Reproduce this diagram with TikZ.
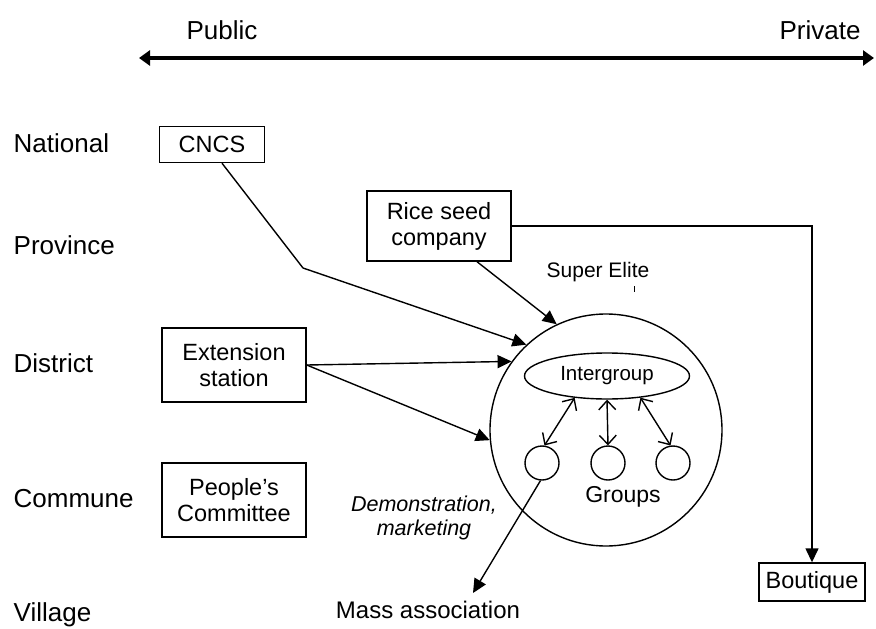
\documentclass[tikz,border=0pt]{standalone}
\usepackage{fontspec}
\setmainfont{Liberation Sans}
\usetikzlibrary{arrows.meta,shapes.geometric}
\begin{document}
\begin{tikzpicture}[x=1pt,y=-1pt,line width=1.4pt,
  lbl/.style={font=\fontsize{26}{30}\selectfont,anchor=west,inner sep=0pt},
  boxnode/.style={draw,font=\fontsize{23.5}{26}\selectfont,align=center,inner sep=0pt},
  txt/.style={inner sep=0pt,align=center},
  arr/.style={-{Triangle[length=14pt,width=13pt]}},
  dbl/.style={{Straight Barb[length=9pt,width=17pt]}-{Straight Barb[length=9pt,width=17pt]}},
  grp/.style={draw,circle,minimum size=34pt,inner sep=0pt}]
\useasboundingbox (0,0) rectangle (876,629);
% top scale
\node[txt,font=\fontsize{26}{30}\selectfont] (pub) at (222,30) {Public};
\node[txt,font=\fontsize{26}{30}\selectfont] (priv) at (820,30) {Private};
\coordinate (sl) at (139,58);
\coordinate (sr) at (874,58);
\draw[line width=3.5pt,{Triangle[length=11pt,width=15pt]}-{Triangle[length=11pt,width=15pt]}] (sl) -- (sr);
% levels
\node[lbl] (nat) at (13,143) {National};
\node[lbl] (prov) at (13,245) {Province};
\node[lbl] (dist) at (13,363) {District};
\node[lbl] (comm) at (13,499) {Commune};
\node[lbl] (vill) at (13,615) {Village};
% boxes
\node[boxnode,minimum width=105pt,minimum height=36pt] (cncs) at (212,144.5) {CNCS};
\node[boxnode,minimum width=144pt,minimum height=70pt] (rice) at (439,226) {Rice seed\\company};
\node[boxnode,minimum width=144pt,minimum height=74pt] (ext) at (234,365) {Extension\\station};
\node[boxnode,minimum width=144pt,minimum height=74pt] (ppl) at (234,500) {People’s\\Committee};
\node[boxnode,minimum width=106pt,minimum height=38pt] (bout) at (812,582) {Boutique};
% big circle
\node[draw,circle,minimum size=232pt,inner sep=0pt] (big) at (606,430) {};
\node[draw,ellipse,minimum width=165pt,minimum height=46pt,inner sep=0pt,font=\fontsize{20.5}{24}\selectfont] (ig) at (607,376) {Intergroup};
\node[grp] (g1) at (542,463) {};
\node[grp] (g2) at (608,463) {};
\node[grp] (g3) at (673,463) {};
\node[txt,font=\fontsize{23}{26}\selectfont] (groups) at (623,497) {Groups};
\node[txt,font=\fontsize{21}{24}\selectfont] (se) at (598,272) {Super Elite};
\coordinate (tk1) at (634,286);
\coordinate (tk2) at (634,292);
\draw[line width=1pt] (tk1) -- (tk2);
\node[txt,font=\fontsize{21.5}{24}\itshape\selectfont] (demo) at (424,518) {Demonstration,\\marketing};
\node[txt,font=\fontsize{24}{28}\selectfont] (mass) at (428,610) {Mass association};
% connectors
\coordinate (bend) at (303,268);
\draw[arr] ([xshift=10pt]cncs.south) -- (bend) -- (big.133);
\draw[arr] ([xshift=38pt]rice.south) -- (big.115);
\draw[arr] (rice.east) -| (bout.north);
\draw[arr] (ext.east) -- (big.144);
\draw[arr] (ext.east) -- (big.185);
\draw[dbl] (ig.214) -- (g1.82);
\draw[dbl] (ig.south) -- (g2.north);
\draw[dbl] (ig.-33) -- (g3.98);
\coordinate (masstip) at (473,593);
\draw[arr] (g1.-95) -- (masstip);
\end{tikzpicture}
\end{document}
